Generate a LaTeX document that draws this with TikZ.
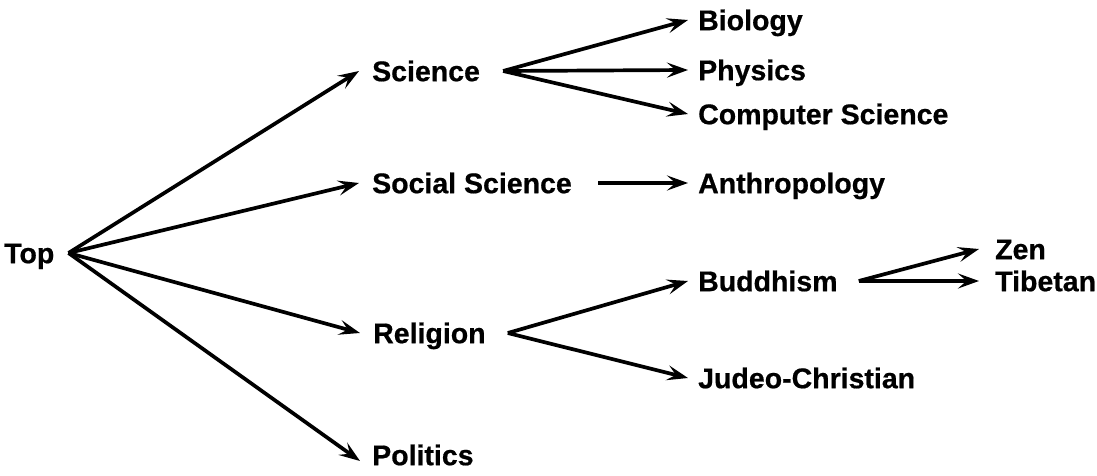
\documentclass[tikz,border=0pt]{standalone}
\usepackage{fontspec}
\setmainfont{Liberation Sans}[BoldFeatures={FakeBold=0.6}]
\usetikzlibrary{arrows.meta}
\tikzset{
  lbl/.style={anchor=west, inner sep=0pt, text height=20.4pt, text depth=0pt,
    font=\fontsize{28.5}{32}\selectfont\bfseries},
  conn/.style={line width=3.7pt, -{Stealth[length=21pt,width=15pt,inset=8.5pt]}}
}
\begin{document}
\begin{tikzpicture}[x=1pt,y=-1pt]
\useasboundingbox (0,0) rectangle (1097,476);
\node[lbl] (top) at (4,253) {Top};
\node[lbl] (sci) at (372,71) {Science};
\node[lbl] (soc) at (372,183) {Social Science};
\node[lbl] (rel) at (373,333) {Religion};
\node[lbl] (pol) at (372,455) {Politics};
\node[lbl] (bio) at (698,20) {Biology};
\node[lbl] (phy) at (698,70) {Physics};
\node[lbl] (cs) at (698,114) {Computer Science};
\node[lbl] (ant) at (698,183) {Anthropology};
\node[lbl] (bud) at (698,281) {Buddhism};
\node[lbl] (zen) at (995,249) {Zen};
\node[lbl] (tib) at (995,281) {Tibetan};
\node[lbl] (jud) at (698,378) {Judeo-Christian};

\coordinate (topS) at ([xshift=14pt]top.east);
\draw[conn] (topS) -- ([xshift=-13pt]sci.west);
\draw[conn] (topS) -- ([xshift=-13pt]soc.west);
\draw[conn] (topS) -- ([xshift=-13pt]rel.west);
\draw[conn] (topS) -- ([xshift=-12pt,yshift=-6pt]pol.west);

\coordinate (sciS) at ([xshift=23pt]sci.east);
\draw[conn] (sciS) -- ([xshift=-10pt]bio.west);
\draw[conn] (sciS) -- ([xshift=-10pt]phy.west);
\draw[conn] (sciS) -- ([xshift=-10pt]cs.west);

\draw[conn] ([xshift=26pt]soc.east) -- ([xshift=-10pt]ant.west);

\coordinate (relS) at ([xshift=22pt]rel.east);
\draw[conn] (relS) -- ([xshift=-10pt]bud.west);
\draw[conn] (relS) -- ([xshift=-10pt]jud.west);

\coordinate (budS) at ([xshift=21pt]bud.east);
\draw[conn] (budS) -- ([xshift=-16pt]zen.west);
\draw[conn] (budS) -- ([xshift=-16pt]tib.west);
\end{tikzpicture}
\end{document}
